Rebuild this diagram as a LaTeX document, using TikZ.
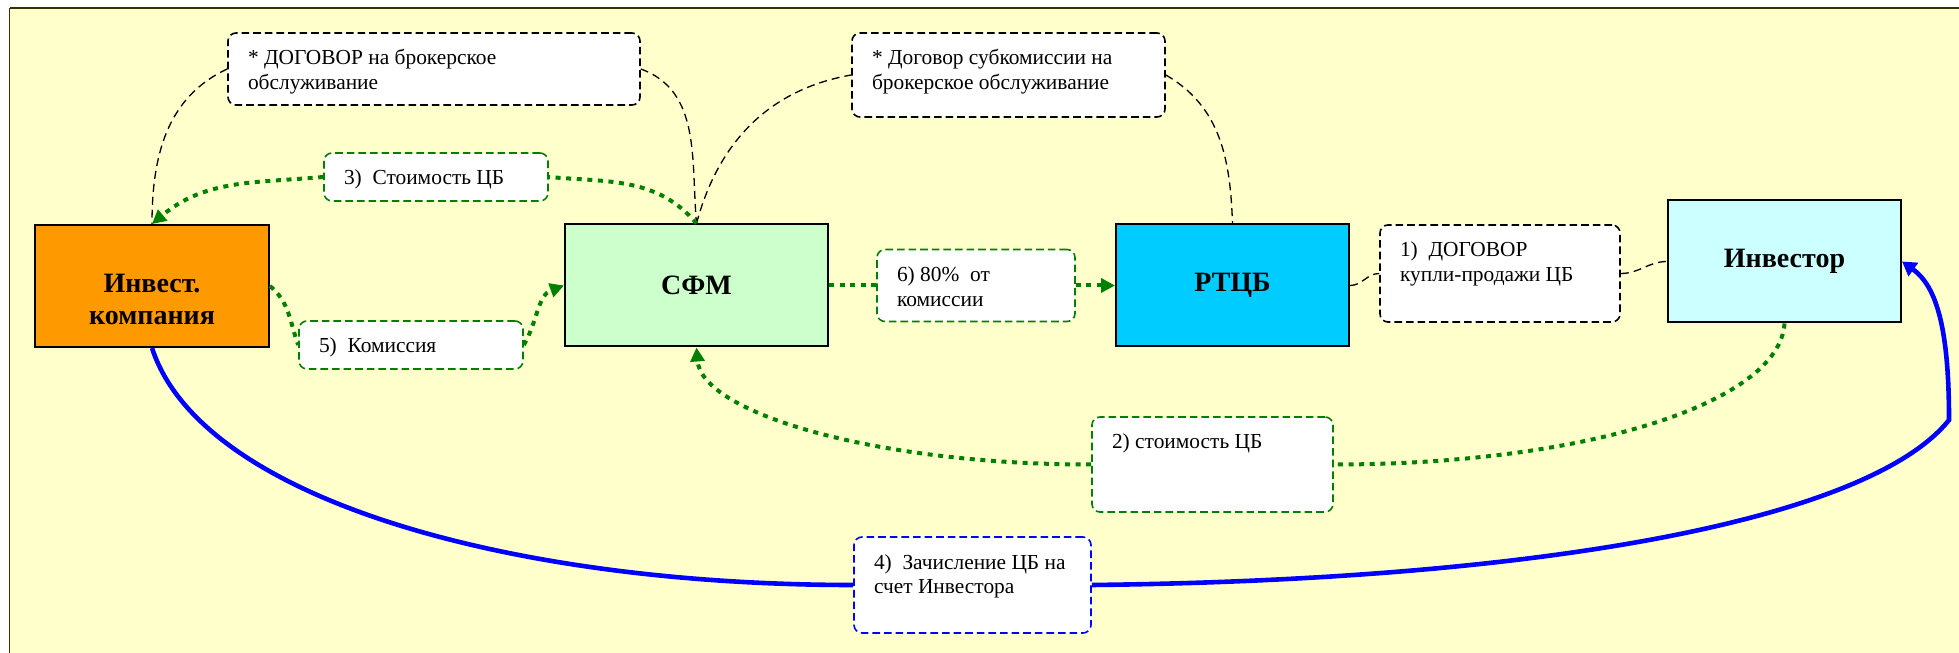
\documentclass[tikz,border=0pt]{standalone}
\usepackage{fontspec}
\setmainfont{Liberation Serif}
\usetikzlibrary{arrows.meta}
\definecolor{paper}{HTML}{FFFFCC}
\definecolor{frameline}{HTML}{333300}
\definecolor{orangebox}{HTML}{FF9900}
\definecolor{sfmgreen}{HTML}{CCFFCC}
\definecolor{rtcbblue}{HTML}{00CCFF}
\definecolor{invcyan}{HTML}{CCFFFF}
\definecolor{flowgreen}{HTML}{008000}
\newcommand{\lbltext}[3]{\hspace*{10pt}\parbox[c][#2][t]{#1}{\raggedright\rule{0pt}{16pt}#3}}
\begin{document}
\begin{tikzpicture}[x=0.5pt,y=0.5pt,
	>={Triangle[length=7pt,width=7pt]},
	box/.style={draw, line width=1pt, minimum width=116.5pt, minimum height=61pt, align=center, font=\fontsize{14}{16}\selectfont\bfseries},
	lbl/.style={draw, fill=white, line width=0.8pt, dash pattern=on 3.8pt off 2pt, rounded corners=4pt, inner sep=0pt, font=\fontsize{10.7}{12.5}\selectfont},
	link/.style={line width=0.65pt, dash pattern=on 4pt off 2.5pt},
	flow/.style={draw=flowgreen, line width=2pt, dash pattern=on 2.5pt off 2.8pt},
	blueline/.style={draw=blue, line width=2.3pt}]
	\useasboundingbox (0,0) rectangle (1959,653);
	\fill[white] (0,0) rectangle (1959,653);
	\fill[paper] (9.5,0) rectangle (1959,645);
	\draw[frameline, line width=1pt] (9.5,645) -- (1959,645);
	\draw[frameline, line width=0.75pt] (9.5,0) -- (9.5,645);

	\node[box, fill=orangebox, minimum width=117pt] (ik) at (152,367) {\rule{0pt}{23pt}Инвест.\\компания};
	\node[box, fill=sfmgreen, minimum width=131.5pt] (sfm) at (696.5,367.5) {СФМ};
	\node[box, fill=rtcbblue] (rtcb) at (1232.5,367.5) {РТЦБ};
	\node[box, fill=invcyan] (inv) at (1784.5,391.5) {Инвестор};

	\node[lbl] (dog1) at (434,584) {\lbltext{196pt}{36pt}{* ДОГОВОР на брокерское\\обслуживание}};
	\node[lbl] (dog2) at (1008.5,578) {\lbltext{146.5pt}{42pt}{* Договор субкомиссии на\\брокерское обслуживание}};
	\node[lbl, draw=flowgreen] (c3) at (436,476) {\lbltext{102pt}{24pt}{3)~ Стоимость ЦБ}};
	\node[lbl, draw=flowgreen] (k5) at (411,308) {\lbltext{102pt}{24pt}{5)~ Комиссия}};
	\node[lbl, draw=flowgreen] (p6) at (976,367.5) {\lbltext{89pt}{36pt}{6) 80\%~ от\\комиссии}};
	\node[lbl] (dog3) at (1500,379.5) {\lbltext{110pt}{48.5pt}{1)~ ДОГОВОР\\купли-продажи ЦБ}};
	\node[lbl, draw=flowgreen] (c2) at (1212.5,188.5) {\lbltext{110.5pt}{47.5pt}{2) стоимость ЦБ}};
	\node[lbl, draw=blue] (z4) at (972.5,68) {\lbltext{108.5pt}{48pt}{4)~ Зачисление ЦБ на\\счет Инвестора}};
	\coordinate (knee) at (1949,233);

	\draw[link] (dog1.west) to[out=205,in=90] (ik.north);
	\draw[link] (dog1.east) to[out=-20,in=95] (sfm.north);
	\draw[link] (sfm.north) to[out=75,in=190] (dog2.west);
	\draw[link] (dog2.east) to[out=-30,in=92] (rtcb.north);
	\draw[link] (rtcb.east) to[out=0,in=180] (dog3.west);
	\draw[link] (dog3.east) to[out=0,in=180] (inv.west);

	\draw[flow] (sfm.north) to[out=130,in=-5] (c3.east);
	\draw[flow,->] (c3.west) to[out=185,in=40] (ik.north);
	\draw[flow] (ik.east) to[out=-40,in=110] (k5.west);
	\draw[flow,->] (k5.east) to[out=60,in=200] (sfm.west);
	\draw[flow] (sfm.east) -- (p6.west);
	\draw[flow,->] (p6.east) -- (rtcb.west);
	\draw[flow] (inv.south) .. controls +(-5,-80) and +(250,0) .. (c2.east);
	\draw[flow,->] (c2.west) .. controls +(-218,0) and +(5,-65) .. (sfm.south);

	\draw[blueline] (ik.south) .. controls +(-72:160) and +(-340,0) .. (z4.west);
	\draw[blueline,-{Triangle[length=7pt,width=8pt]}] (z4.east) .. controls +(450,5) and +(-80,-100) .. (knee) .. controls +(0,90) and +(35,-25) .. (inv.east);
\end{tikzpicture}
\end{document}
